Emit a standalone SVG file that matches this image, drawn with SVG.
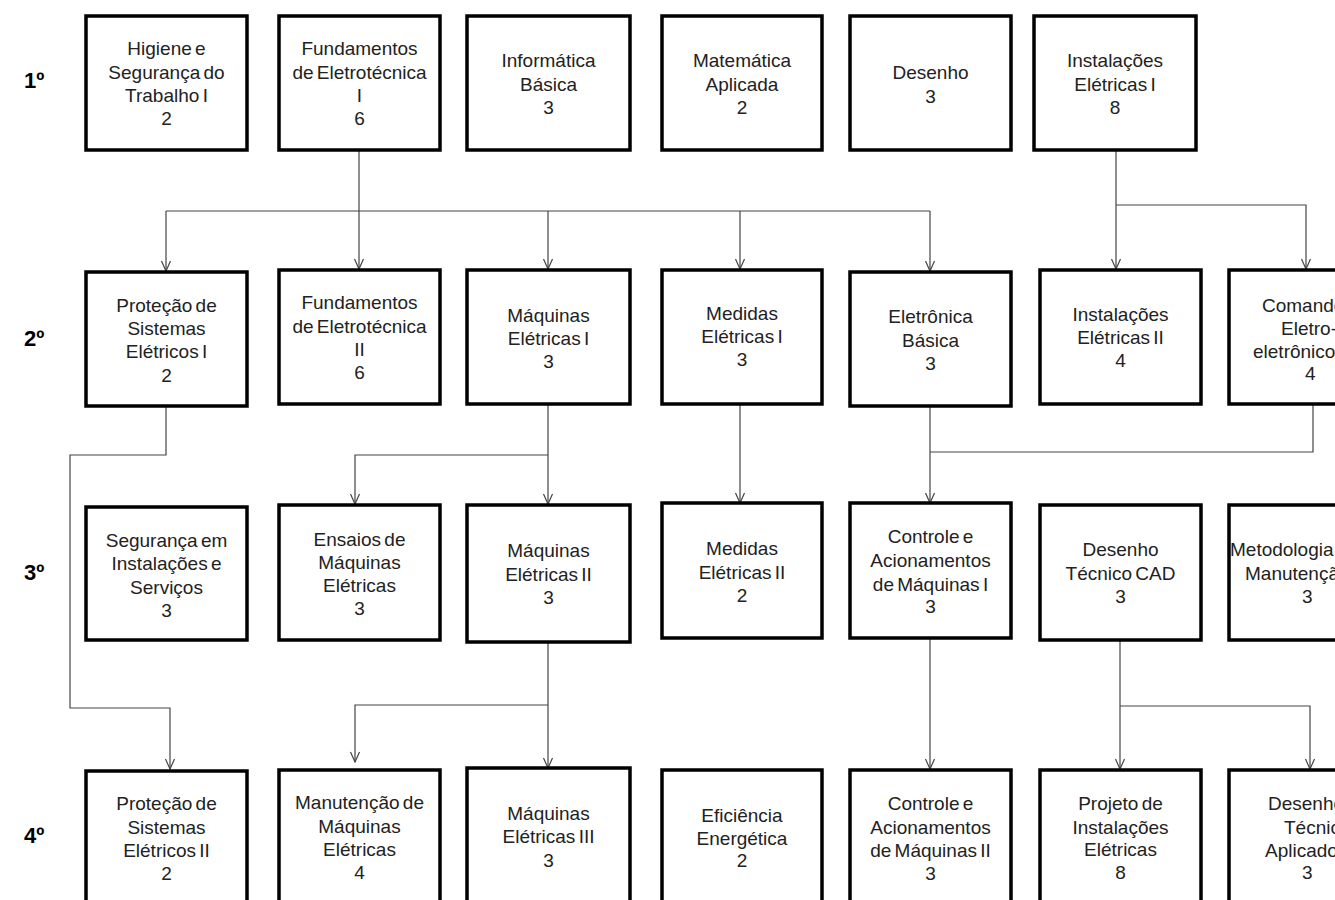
<svg xmlns="http://www.w3.org/2000/svg" width="1335" height="900" viewBox="0 0 1335 900">
<style>
.box{fill:#fff;stroke:#000;stroke-width:3.5}
.t{font-family:"Liberation Sans",Arial,sans-serif;font-size:19px;fill:#222;text-anchor:middle;word-spacing:-2px}
.ts{font-family:"Liberation Sans",Arial,sans-serif;font-size:19px;fill:#222;word-spacing:-2px}
.sem{font-family:"Liberation Sans",Arial,sans-serif;font-size:22px;font-weight:bold;fill:#000}
.c{fill:none;stroke:#444;stroke-width:1.2}
</style>
<defs>
<marker id="ar" viewBox="-1 -6 12 12" refX="10" refY="0" markerWidth="12" markerHeight="12" markerUnits="userSpaceOnUse" orient="auto">
<path d="M0,-4.5 L10,0 L0,4.5" fill="none" stroke="#444" stroke-width="1.2"/>
</marker>
</defs>
<rect width="1335" height="900" fill="#fff"/>

<g id="semesters">
<text class="sem" x="24" y="88">1º</text>
<text class="sem" x="24" y="346">2º</text>
<text class="sem" x="24" y="580">3º</text>
<text class="sem" x="24" y="843">4º</text>
</g>

<g id="connectors">
<path class="c" d="M359,150 V269" marker-end="url(#ar)"/>
<path class="c" d="M166,211 H930"/>
<path class="c" d="M166,211 V271" marker-end="url(#ar)"/>
<path class="c" d="M548,211 V269" marker-end="url(#ar)"/>
<path class="c" d="M740,211 V269" marker-end="url(#ar)"/>
<path class="c" d="M930,211 V271" marker-end="url(#ar)"/>
<path class="c" d="M1116,150 V269" marker-end="url(#ar)"/>
<path class="c" d="M1116,205 H1306 V269" marker-end="url(#ar)"/>
<path class="c" d="M166,406 V455 H70 V708 H170 V769" marker-end="url(#ar)"/>
<path class="c" d="M548,404 V504" marker-end="url(#ar)"/>
<path class="c" d="M548,455 H355 V504" marker-end="url(#ar)"/>
<path class="c" d="M740,404 V503" marker-end="url(#ar)"/>
<path class="c" d="M930,406 V503" marker-end="url(#ar)"/>
<path class="c" d="M1313,404 V452 H930"/>
<path class="c" d="M548,642 V768" marker-end="url(#ar)"/>
<path class="c" d="M548,705 H355 V762" marker-end="url(#ar)"/>
<path class="c" d="M930,638 V769" marker-end="url(#ar)"/>
<path class="c" d="M1120,640 V769" marker-end="url(#ar)"/>
<path class="c" d="M1120,706 H1310 V769" marker-end="url(#ar)"/>
</g>

<!-- Row 1 -->
<g id="n-higiene"><rect class="box" x="86" y="16" width="161" height="134"/>
<text class="t"><tspan x="166.5" y="55">Higiene e</tspan><tspan x="166.5" y="79">Segurança do</tspan><tspan x="166.5" y="102">Trabalho I</tspan><tspan x="166.5" y="125">2</tspan></text></g>
<g id="n-fund1"><rect class="box" x="279" y="16" width="161" height="134"/>
<text class="t"><tspan x="359.5" y="55">Fundamentos</tspan><tspan x="359.5" y="79">de Eletrotécnica</tspan><tspan x="359.5" y="102">I</tspan><tspan x="359.5" y="125">6</tspan></text></g>
<g id="n-info"><rect class="box" x="467" y="16" width="163" height="134"/>
<text class="t"><tspan x="548.5" y="67">Informática</tspan><tspan x="548.5" y="91">Básica</tspan><tspan x="548.5" y="114">3</tspan></text></g>
<g id="n-mat"><rect class="box" x="662" y="16" width="160" height="134"/>
<text class="t"><tspan x="742" y="67">Matemática</tspan><tspan x="742" y="91">Aplicada</tspan><tspan x="742" y="114">2</tspan></text></g>
<g id="n-desenho"><rect class="box" x="850" y="16" width="161" height="134"/>
<text class="t"><tspan x="930.5" y="79">Desenho</tspan><tspan x="930.5" y="103">3</tspan></text></g>
<g id="n-inst1"><rect class="box" x="1034" y="16" width="162" height="134"/>
<text class="t"><tspan x="1115" y="67">Instalações</tspan><tspan x="1115" y="91">Elétricas I</tspan><tspan x="1115" y="114">8</tspan></text></g>

<!-- Row 2 -->
<g id="n-prot1"><rect class="box" x="86" y="272" width="161" height="134"/>
<text class="t"><tspan x="166.5" y="312">Proteção de</tspan><tspan x="166.5" y="335">Sistemas</tspan><tspan x="166.5" y="358">Elétricos I</tspan><tspan x="166.5" y="382">2</tspan></text></g>
<g id="n-fund2"><rect class="box" x="279" y="270" width="161" height="134"/>
<text class="t"><tspan x="359.5" y="309">Fundamentos</tspan><tspan x="359.5" y="333">de Eletrotécnica</tspan><tspan x="359.5" y="356">II</tspan><tspan x="359.5" y="379">6</tspan></text></g>
<g id="n-maq1"><rect class="box" x="467" y="270" width="163" height="134"/>
<text class="t"><tspan x="548.5" y="322">Máquinas</tspan><tspan x="548.5" y="345">Elétricas I</tspan><tspan x="548.5" y="368">3</tspan></text></g>
<g id="n-med1"><rect class="box" x="662" y="270" width="160" height="134"/>
<text class="t"><tspan x="742" y="320">Medidas</tspan><tspan x="742" y="343">Elétricas I</tspan><tspan x="742" y="366">3</tspan></text></g>
<g id="n-eletronica"><rect class="box" x="850" y="272" width="161" height="134"/>
<text class="t"><tspan x="930.5" y="323">Eletrônica</tspan><tspan x="930.5" y="347">Básica</tspan><tspan x="930.5" y="370">3</tspan></text></g>
<g id="n-inst2"><rect class="box" x="1040" y="270" width="161" height="134"/>
<text class="t"><tspan x="1120.5" y="321">Instalações</tspan><tspan x="1120.5" y="344">Elétricas II</tspan><tspan x="1120.5" y="367">4</tspan></text></g>
<g id="n-comandos"><rect class="box" x="1229" y="270" width="161" height="134"/>
<text class="ts"><tspan x="1262" y="312">Comandos</tspan><tspan x="1281" y="335">Eletro-</tspan><tspan x="1253" y="358">eletrônicos</tspan><tspan x="1305" y="380">4</tspan></text></g>

<!-- Row 3 -->
<g id="n-seg"><rect class="box" x="86" y="507" width="161" height="133"/>
<text class="t"><tspan x="166.5" y="547">Segurança em</tspan><tspan x="166.5" y="570">Instalações e</tspan><tspan x="166.5" y="594">Serviços</tspan><tspan x="166.5" y="617">3</tspan></text></g>
<g id="n-ensaios"><rect class="box" x="279" y="505" width="161" height="135"/>
<text class="t"><tspan x="359.5" y="546">Ensaios de</tspan><tspan x="359.5" y="569">Máquinas</tspan><tspan x="359.5" y="592">Elétricas</tspan><tspan x="359.5" y="615">3</tspan></text></g>
<g id="n-maq2"><rect class="box" x="467" y="505" width="163" height="137"/>
<text class="t"><tspan x="548.5" y="557">Máquinas</tspan><tspan x="548.5" y="581">Elétricas II</tspan><tspan x="548.5" y="604">3</tspan></text></g>
<g id="n-med2"><rect class="box" x="662" y="503" width="160" height="135"/>
<text class="t"><tspan x="742" y="555">Medidas</tspan><tspan x="742" y="579">Elétricas II</tspan><tspan x="742" y="602">2</tspan></text></g>
<g id="n-ctrl1"><rect class="box" x="850" y="503" width="161" height="135"/>
<text class="t"><tspan x="930.5" y="543">Controle e</tspan><tspan x="930.5" y="567">Acionamentos</tspan><tspan x="930.5" y="591">de Máquinas I</tspan><tspan x="930.5" y="613">3</tspan></text></g>
<g id="n-cad"><rect class="box" x="1040" y="505" width="161" height="135"/>
<text class="t"><tspan x="1120.5" y="556">Desenho</tspan><tspan x="1120.5" y="580">Técnico CAD</tspan><tspan x="1120.5" y="603">3</tspan></text></g>
<g id="n-metod"><rect class="box" x="1229" y="505" width="161" height="135"/>
<text class="ts"><tspan x="1230" y="556">Metodologia de</tspan><tspan x="1245" y="580">Manutenção</tspan><tspan x="1302" y="603">3</tspan></text></g>

<!-- Row 4 -->
<g id="n-prot2"><rect class="box" x="86" y="771" width="161" height="140"/>
<text class="t"><tspan x="166.5" y="810">Proteção de</tspan><tspan x="166.5" y="834">Sistemas</tspan><tspan x="166.5" y="857">Elétricos II</tspan><tspan x="166.5" y="880">2</tspan></text></g>
<g id="n-manut"><rect class="box" x="279" y="770" width="161" height="140"/>
<text class="t"><tspan x="359.5" y="809">Manutenção de</tspan><tspan x="359.5" y="833">Máquinas</tspan><tspan x="359.5" y="856">Elétricas</tspan><tspan x="359.5" y="879">4</tspan></text></g>
<g id="n-maq3"><rect class="box" x="467" y="768" width="163" height="142"/>
<text class="t"><tspan x="548.5" y="820">Máquinas</tspan><tspan x="548.5" y="843">Elétricas III</tspan><tspan x="548.5" y="867">3</tspan></text></g>
<g id="n-efic"><rect class="box" x="662" y="770" width="160" height="140"/>
<text class="t"><tspan x="742" y="822">Eficiência</tspan><tspan x="742" y="845">Energética</tspan><tspan x="742" y="867">2</tspan></text></g>
<g id="n-ctrl2"><rect class="box" x="850" y="770" width="161" height="140"/>
<text class="t"><tspan x="930.5" y="810">Controle e</tspan><tspan x="930.5" y="834">Acionamentos</tspan><tspan x="930.5" y="857">de Máquinas II</tspan><tspan x="930.5" y="880">3</tspan></text></g>
<g id="n-projeto"><rect class="box" x="1040" y="770" width="161" height="140"/>
<text class="t"><tspan x="1120.5" y="810">Projeto de</tspan><tspan x="1120.5" y="834">Instalações</tspan><tspan x="1120.5" y="856">Elétricas</tspan><tspan x="1120.5" y="879">8</tspan></text></g>
<g id="n-dta"><rect class="box" x="1229" y="770" width="161" height="140"/>
<text class="ts"><tspan x="1268" y="810">Desenho</tspan><tspan x="1284" y="834">Técnico</tspan><tspan x="1265" y="857">Aplicado</tspan><tspan x="1302" y="879">3</tspan></text></g>
</svg>
